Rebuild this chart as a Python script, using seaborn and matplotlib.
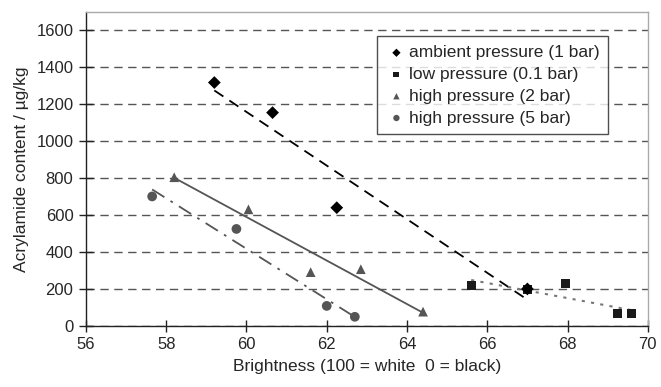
import matplotlib
matplotlib.use("Agg")
import matplotlib.pyplot as plt
import seaborn as sns
import pandas as pd
import numpy as np

amb_x = [59.2, 60.65, 62.25, 67.0]
amb_y = [1318, 1155, 640, 200]
low_x = [65.6, 67.0, 67.95, 69.25, 69.6]
low_y = [216, 195, 232, 65, 68]
hp2_x = [58.2, 60.05, 61.6, 62.85, 64.4]
hp2_y = [805, 631, 291, 307, 77]
hp5_x = [57.65, 59.75, 62.0, 62.7]
hp5_y = [701, 525, 108, 49]

labels = ["ambient pressure (1 bar)", "low pressure (0.1 bar)",
          "high pressure (2 bar)", "high pressure (5 bar)"]

sns.set_theme(style="white")
plt.rcParams['font.family'] = ['Liberation Sans', 'DejaVu Sans']

fig = plt.figure(figsize=(6.61, 3.87), dpi=100)
ax = fig.add_axes([0.130, 0.158, 0.850, 0.811])

series = [
    (amb_x, amb_y, labels[0], "D", "#000000", 6.5, (0, (6, 4)), "#000000", 1.3, 7),
    (low_x, low_y, labels[1], "s", "#1a1a1a", 6.5, (0, (1.5, 3)), "#777777", 1.5, 5),
    (hp2_x, hp2_y, labels[2], "^", "#555555", 7, "-", "#555555", 1.3, 5),
    (hp5_x, hp5_y, labels[3], "o", "#555555", 7, (0, (8, 4, 1.5, 4)), "#555555", 1.3, 5),
]

for xs, ys, lab, mk, col, ms, ls, lcol, lw, z in series:
    df = pd.DataFrame({"x": xs, "y": ys})
    sns.regplot(data=df, x="x", y="y", ax=ax, scatter=False, ci=None,
                truncate=True, line_kws=dict(color=lcol, linestyle=ls, lw=lw))
    sns.scatterplot(data=df, x="x", y="y", ax=ax, marker=mk, color=col,
                    s=ms**2, edgecolor="none", label=lab, zorder=z)

ax.set_xlim(56, 70)
ax.set_ylim(0, 1700)
ax.set_xticks(np.arange(56, 71, 2))
ax.set_yticks(np.arange(0, 1601, 200))
ax.yaxis.grid(True, linestyle=(0, (6, 4)), color="#555555", lw=1.0)
ax.xaxis.grid(False)
ax.set_axisbelow(True)

for s in ["left", "bottom"]:
    ax.spines[s].set_color("#222222")
    ax.spines[s].set_linewidth(1.0)
for s in ["top", "right"]:
    ax.spines[s].set_color("#aaaaaa")
    ax.spines[s].set_linewidth(1.0)

ax.tick_params(axis="x", direction="inout", length=8, width=1, color="#222222",
               labelsize=12, pad=4, bottom=True)
ax.tick_params(axis="y", direction="inout", length=10, width=1, color="#222222",
               labelsize=12, pad=4, left=True)

ax.set_xlabel("Brightness (100 = white  0 = black)", fontsize=12.5, labelpad=5)
ax.set_ylabel("Acrylamide content / µg/kg", fontsize=12.5, labelpad=5)

leg = ax.legend(loc="upper right", bbox_to_anchor=(0.929, 0.922), fontsize=12.5,
                frameon=True, fancybox=False, edgecolor="#222222",
                handletextpad=0.1, borderpad=0.5, labelspacing=0.38,
                borderaxespad=0, markerscale=0.65, handlelength=1.2)
leg.get_frame().set_linewidth(1.0)

fig.savefig("out.png", dpi=100)
